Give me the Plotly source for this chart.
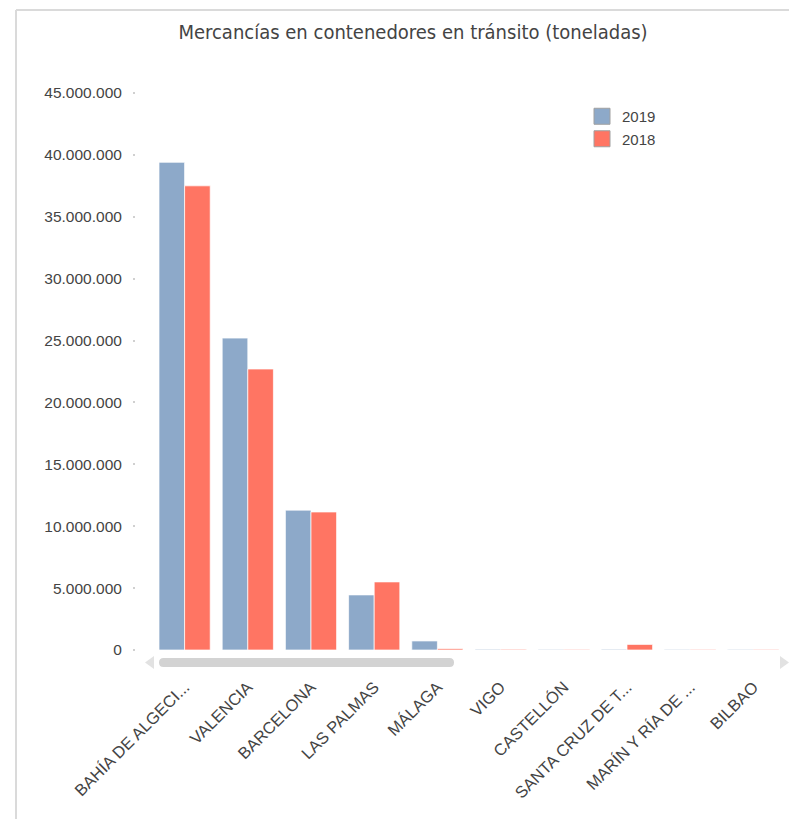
import plotly.graph_objects as go

categories = ["BAHÍA DE ALGECI...", "VALENCIA", "BARCELONA", "LAS PALMAS", "MÁLAGA",
              "VIGO", "CASTELLÓN", "SANTA CRUZ DE T...", "MARÍN Y RÍA DE ...", "BILBAO"]
values_2019 = [39400000, 25200000, 11300000, 4450000, 730000, 60000, 50000, 60000, 50000, 50000]
values_2018 = [37500000, 22700000, 11150000, 5500000, 110000, 60000, 50000, 450000, 50000, 50000]
y_ticks = [0, 5000000, 10000000, 15000000, 20000000, 25000000, 30000000, 35000000, 40000000, 45000000]
series_names = ["2019", "2018"]
series_colors = ["#8DA9C9", "#FF7563"]

OFF = 8  # page body margin
W, H = 797 - OFF, 819 - OFF
L, R, T, B = 127, 12, 85, 169
PW, PH = W - L - R, H - T - B


def xp(px):
    return (px - OFF - L) / PW


def yp(py):
    return (H - B - (py - OFF)) / PH


FONT = "Liberation Sans, Arial, sans-serif"

fig = go.Figure()
for name, vals, col in zip(series_names, [values_2019, values_2018], series_colors):
    fig.add_trace(go.Bar(name=name, x=categories, y=vals, showlegend=False,
                         marker=dict(color=col, line=dict(color="rgba(255,255,255,0.7)", width=1))))
# legend entries with larger square swatches
for name, col in zip(series_names, series_colors):
    fig.add_trace(go.Scatter(name=name, x=[None], y=[None], mode="markers", hoverinfo="skip",
                             marker=dict(symbol="square", size=20, color=col,
                                         line=dict(color="#A0A0A0", width=1))))

shapes = []
# frame lines
shapes.append(dict(type="line", xref="paper", yref="paper", x0=xp(16), x1=xp(797), y0=yp(10), y1=yp(10),
                   line=dict(color="#DADADA", width=2)))
shapes.append(dict(type="line", xref="paper", yref="paper", x0=xp(16), x1=xp(16), y0=yp(10), y1=yp(819),
                   line=dict(color="#DADADA", width=2)))
# scrollbar
x0, x1, y0, y1, r = 159, 454, 658, 667, 4.5
path = (f"M {xp(x0 + r)},{yp(y0)} L {xp(x1 - r)},{yp(y0)} Q {xp(x1)},{yp(y0)} {xp(x1)},{yp(y0 + r)} "
        f"Q {xp(x1)},{yp(y1)} {xp(x1 - r)},{yp(y1)} L {xp(x0 + r)},{yp(y1)} "
        f"Q {xp(x0)},{yp(y1)} {xp(x0)},{yp(y1 - r)} Q {xp(x0)},{yp(y0)} {xp(x0 + r)},{yp(y0)} Z")
shapes.append(dict(type="path", xref="paper", yref="paper", path=path, fillcolor="#D3D3D3", line=dict(width=0)))
# arrows
shapes.append(dict(type="path", xref="paper", yref="paper",
                   path=f"M {xp(154)},{yp(656)} L {xp(154)},{yp(669)} L {xp(145)},{yp(662.5)} Z",
                   fillcolor="#E2E2E2", line=dict(width=0)))
shapes.append(dict(type="path", xref="paper", yref="paper",
                   path=f"M {xp(780)},{yp(656)} L {xp(780)},{yp(669)} L {xp(789)},{yp(662.5)} Z",
                   fillcolor="#E2E2E2", line=dict(width=0)))

fig.update_layout(
    width=W, height=H,
    margin=dict(l=L, r=R, t=T, b=B, autoexpand=False),
    paper_bgcolor="white", plot_bgcolor="white",
    separators=",.",
    barmode="group", bargap=0.19, bargroupgap=0,
    font=dict(family=FONT, size=15, color="#444444"),
    title=dict(text="Mercancías en contenedores en tránsito (toneladas)",
               x=(413 - OFF) / W, xref="container", xanchor="center",
               y=1 - (32 - OFF) / H, yref="container", yanchor="middle",
               font=dict(family="DejaVu Sans Condensed, DejaVu Sans, sans-serif", size=20, color="#444444")),
    legend=dict(x=xp(582), y=yp(100), xanchor="left", yanchor="top",
                font=dict(family=FONT, size=15, color="#444444"),
                itemwidth=30, itemsizing="trace", tracegroupgap=0, bgcolor="rgba(0,0,0,0)"),
    shapes=shapes,
    xaxis=dict(domain=[xp(153), 1], showgrid=False, zeroline=False, showline=False,
               tickangle=-45, ticks="outside", ticklen=20, tickcolor="rgba(0,0,0,0)",
               tickfont=dict(family=FONT, size=16.5, color="#444444")),
    yaxis=dict(range=[0, 45000000], domain=[0, 1], anchor="free", position=0,
               tickvals=y_ticks, tickformat=",d", showgrid=False, zeroline=False, showline=False,
               ticks="outside", ticklen=2, tickwidth=2, tickcolor="#D0D0D0",
               ticklabelstandoff=8, tickfont=dict(family=FONT, size=15.5, color="#444444")),
)

fig.write_html("out.html")
